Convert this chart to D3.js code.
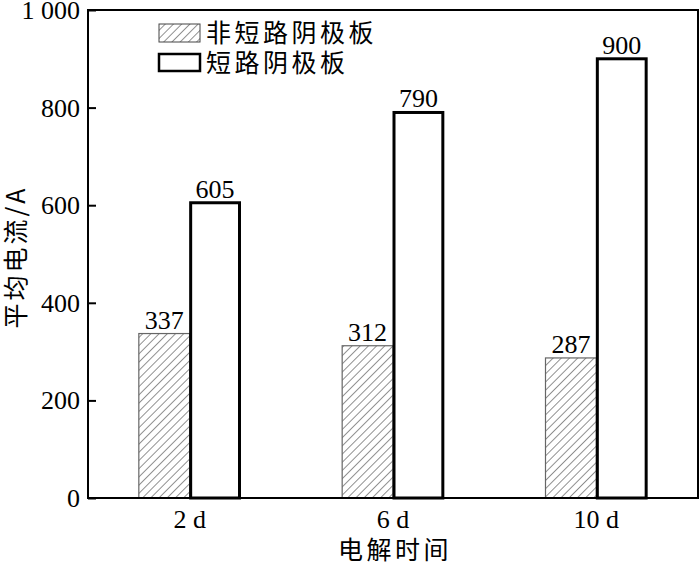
<!DOCTYPE html>
<html><head><meta charset="utf-8">
<script src="https://cdn.jsdelivr.net/npm/d3@7"></script>
<style>body{margin:0;background:#fff}svg{display:block}</style>
</head><body>
<svg id="c" width="700" height="565"></svg>
<script>
const categories = ["2 d", "6 d", "10 d"];
const seriesNames = ["非短路阴极板", "短路阴极板"];
const nonShort = [337, 312, 287];
const shortCircuit = [605, 790, 900];
const yTicks = [0, 200, 400, 600, 800, 1000];
const yTickLabels = ["0", "200", "400", "600", "800", "1 000"];

const svg = d3.select("#c");
const m = {l: 88, r: 698, t: 10, b: 498};
const numFont = "'Liberation Serif','Times New Roman',serif";
const cjkFont = "'Noto Sans CJK SC','Liberation Serif',serif";

const defs = svg.append("defs");
const pat = defs.append("pattern").attr("id", "hatch").attr("patternUnits", "userSpaceOnUse")
  .attr("width", 5.8).attr("height", 5.8).attr("patternTransform", "rotate(45)");
pat.append("line").attr("x1", 0).attr("y1", 0).attr("x2", 0).attr("y2", 5.8)
  .attr("stroke", "#222").attr("stroke-width", 1);

const x = d3.scaleBand().domain(categories).range([m.l, m.r]).paddingInner(0).paddingOuter(0);
const y = d3.scaleLinear().domain([0, 1000]).range([m.b, m.t]);
const bw = x.bandwidth() * 0.25;

const data = categories.map((c, i) => ({c, a: nonShort[i], b: shortCircuit[i]}));

const g = svg.append("g");
g.selectAll(".ha").data(data).enter().append("rect")
  .attr("x", d => x(d.c) + x.bandwidth() / 2 - bw).attr("y", d => y(d.a))
  .attr("width", bw).attr("height", d => y(0) - y(d.a))
  .attr("fill", "url(#hatch)").attr("stroke", "#666").attr("stroke-width", 1.2);
g.selectAll(".op").data(data).enter().append("rect")
  .attr("x", d => x(d.c) + x.bandwidth() / 2 + 1).attr("y", d => y(d.b))
  .attr("width", bw - 2).attr("height", d => y(0) - y(d.b))
  .attr("fill", "#fff").attr("stroke", "#000").attr("stroke-width", 3);

g.selectAll(".la").data(data).enter().append("text")
  .attr("x", d => x(d.c) + x.bandwidth() / 2 - bw / 2).attr("y", d => y(d.a) - 5)
  .attr("text-anchor", "middle").attr("font-family", numFont).attr("font-size", 26).text(d => d.a);
g.selectAll(".lb").data(data).enter().append("text")
  .attr("x", d => x(d.c) + x.bandwidth() / 2 + bw / 2).attr("y", d => y(d.b) - 5)
  .attr("text-anchor", "middle").attr("font-family", numFont).attr("font-size", 26).text(d => d.b);

svg.append("rect").attr("x", m.l).attr("y", m.t).attr("width", m.r - m.l).attr("height", m.b - m.t)
  .attr("fill", "none").attr("stroke", "#000").attr("stroke-width", 2);

const ya = svg.append("g").attr("transform", `translate(${m.l},0)`)
  .call(d3.axisRight(y).tickValues(yTicks).tickSize(8).tickFormat(() => ""));
ya.select(".domain").remove();
ya.selectAll("line").attr("stroke-width", 2);
svg.selectAll(".yl").data(yTicks).enter().append("text")
  .attr("x", m.l - 8).attr("y", d => y(d) + 9).attr("text-anchor", "end")
  .attr("font-family", numFont).attr("font-size", 26).text((d, i) => yTickLabels[i]);

svg.selectAll(".xl").data(categories).enter().append("text")
  .attr("x", d => x(d) + x.bandwidth() / 2).attr("y", 528).attr("text-anchor", "middle")
  .attr("font-family", numFont).attr("font-size", 26).text(d => d);

svg.append("text").attr("x", (m.l + m.r) / 2 + 2).attr("y", 559).attr("text-anchor", "middle")
  .attr("font-family", cjkFont).attr("font-size", 25).attr("letter-spacing", 3.5).text("电解时间");
svg.append("text").attr("transform", `translate(25,257) rotate(-90)`)
  .attr("text-anchor", "middle").attr("font-family", cjkFont).attr("font-size", 25).attr("letter-spacing", 3).text("平均电流/A");

const lg = svg.append("g");
lg.append("rect").attr("x", 159).attr("y", 24).attr("width", 41).attr("height", 18)
  .attr("fill", "url(#hatch)").attr("stroke", "#444").attr("stroke-width", 1);
lg.append("rect").attr("x", 159).attr("y", 54).attr("width", 41).attr("height", 17)
  .attr("fill", "#fff").attr("stroke", "#000").attr("stroke-width", 2.5);
lg.append("text").attr("x", 206).attr("y", 42).attr("font-family", cjkFont).attr("font-size", 25).attr("letter-spacing", 3.5).text(seriesNames[0]);
lg.append("text").attr("x", 206).attr("y", 72).attr("font-family", cjkFont).attr("font-size", 25).attr("letter-spacing", 3.5).text(seriesNames[1]);
</script>
</body></html>
